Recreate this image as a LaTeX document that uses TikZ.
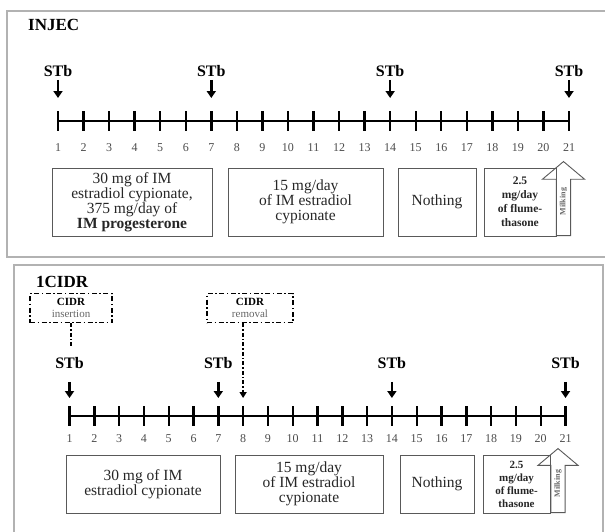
\documentclass[tikz,border=0pt]{standalone}
\usepackage{fontspec}
\setmainfont{Liberation Serif}
\usetikzlibrary{shapes,arrows.meta,positioning}

\begin{document}
\begin{tikzpicture}
  [
    x=1pt, y=-1pt,
    Frame/.style={draw=gray!60, line width=1.4pt},
    Title/.style={font=\fontsize{17}{17}\selectfont\bfseries, anchor=west, inner sep=0},
    Stb/.style={font=\fontsize{16}{16}\selectfont\bfseries, inner sep=0},
    Day/.style={font=\fontsize{12}{12}\selectfont, text=black!70, inner sep=0},
    Tick/.style={line width=2.4pt},
    Axis/.style={line width=2pt},
    Dose/.style={draw=black!65, line width=0.9pt, align=center, inner sep=0, text=black!85, font=\fontsize{15.5}{15}\selectfont},
    Cidr/.style={draw, line width=1.5pt, dash pattern=on 5pt off 2.5pt on 1.5pt off 2.5pt, align=center, inner sep=0, font=\fontsize{11}{12}\selectfont},
    Drop/.style={-{Triangle[length=7pt,width=9pt]}, line width=2.4pt},
    Link/.style={line width=1.8pt, dash pattern=on 4pt off 2pt on 1.5pt off 2pt},
    Milk/.style={single arrow, draw=black!65, line width=0.9pt, single arrow tip angle=100, single arrow head indent=0pt, inner xsep=2pt, inner ysep=3pt, rotate=90, anchor=tail, font=\fontsize{8}{8}\selectfont\bfseries, text=black!60}
  ]
  \useasboundingbox (0,0) rectangle (605,531);

  % Panel INJEC
  \draw[Frame] (7,11) rectangle (612,257);
  \node[Title] (injec) at (28,25) {INJEC};

  \foreach \i in {1,...,21} {
    \coordinate (a\i) at ({58+(\i-1)*25.55},121);
    \draw[Tick] ([yshift=10pt]a\i) -- ([yshift=-10pt]a\i);
    \node[Day] (na\i) at ({58+(\i-1)*25.55},148) {\i};
  }
  \draw[Axis] (a1) -- (a21);

  \foreach \i in {1,7,14,21} {
    \node[Stb] (sa\i) at ([yshift=50pt]a\i) {STb};
    \draw[Drop] ([yshift=-3pt]sa\i.south) -- ([yshift=23pt]a\i);
  }

  \node[Dose, minimum width=160pt, minimum height=68pt] (da1) at (132,202)
    {30 mg of IM\\estradiol cypionate,\\375 mg/day of\\\textbf{IM progesterone}};
  \node[Dose, minimum width=155pt, minimum height=68pt] (da2) at (305.5,202)
    {15 mg/day\\of IM estradiol\\cypionate};
  \node[Dose, minimum width=78pt, minimum height=68pt] (da3) at (437,202) {Nothing};
  \node[Dose, minimum width=72pt, minimum height=68pt, font=\fontsize{11.5}{14}\selectfont\bfseries] (da4) at (520,202)
    {2.5\\mg/day\\of flume-\\thasone};
  \node[Milk, minimum height=74pt, single arrow head extend=14pt] (ma) at (563.5,236) {Milking};

  % Panel 1CIDR
  \draw[Frame] (14,265) rectangle (603,540);
  \node[Title] (cidr) at (36,282) {1CIDR};

  \foreach \i in {1,...,21} {
    \coordinate (b\i) at ({69.5+(\i-1)*24.8},416);
    \draw[Tick] ([yshift=10pt]b\i) -- ([yshift=-10pt]b\i);
    \node[Day] (nb\i) at ({69.5+(\i-1)*24.8},439) {\i};
  }
  \draw[Axis] (b1) -- (b21);

  \foreach \i in {1,7,14,21} {
    \node[Stb] (sb\i) at ([yshift=53pt]b\i) {STb};
    \draw[Drop] ([yshift=-13pt]sb\i.south) -- ([yshift=18pt]b\i);
  }

  \node[Cidr, minimum width=82pt, minimum height=29pt] (ins) at (71,308)
    {\textbf{CIDR}\\\textcolor{black!60}{insertion}};
  \node[Cidr, minimum width=86pt, minimum height=29pt] (rem) at (250,308)
    {\textbf{CIDR}\\\textcolor{black!60}{removal}};
  \coordinate (insend) at (71,348);
  \draw[Link] (ins.south) -- (insend);
  \draw[Link, -{Triangle[length=6pt,width=7pt]}] (rem.south -| b8) -- ([yshift=18pt]b8);

  \node[Dose, minimum width=154pt, minimum height=58pt] (db1) at (143,484)
    {30 mg of IM\\estradiol cypionate};
  \node[Dose, minimum width=148pt, minimum height=58pt] (db2) at (309,484)
    {15 mg/day\\of IM estradiol\\cypionate};
  \node[Dose, minimum width=74pt, minimum height=58pt] (db3) at (437,484) {Nothing};
  \node[Dose, minimum width=67pt, minimum height=58pt, font=\fontsize{11}{13}\selectfont\bfseries] (db4) at (516.5,484)
    {2.5\\mg/day\\of flume-\\thasone};
  \node[Milk, minimum height=64pt, single arrow head extend=13pt] (mb) at (558,513) {Milking};

\end{tikzpicture}
\end{document}
